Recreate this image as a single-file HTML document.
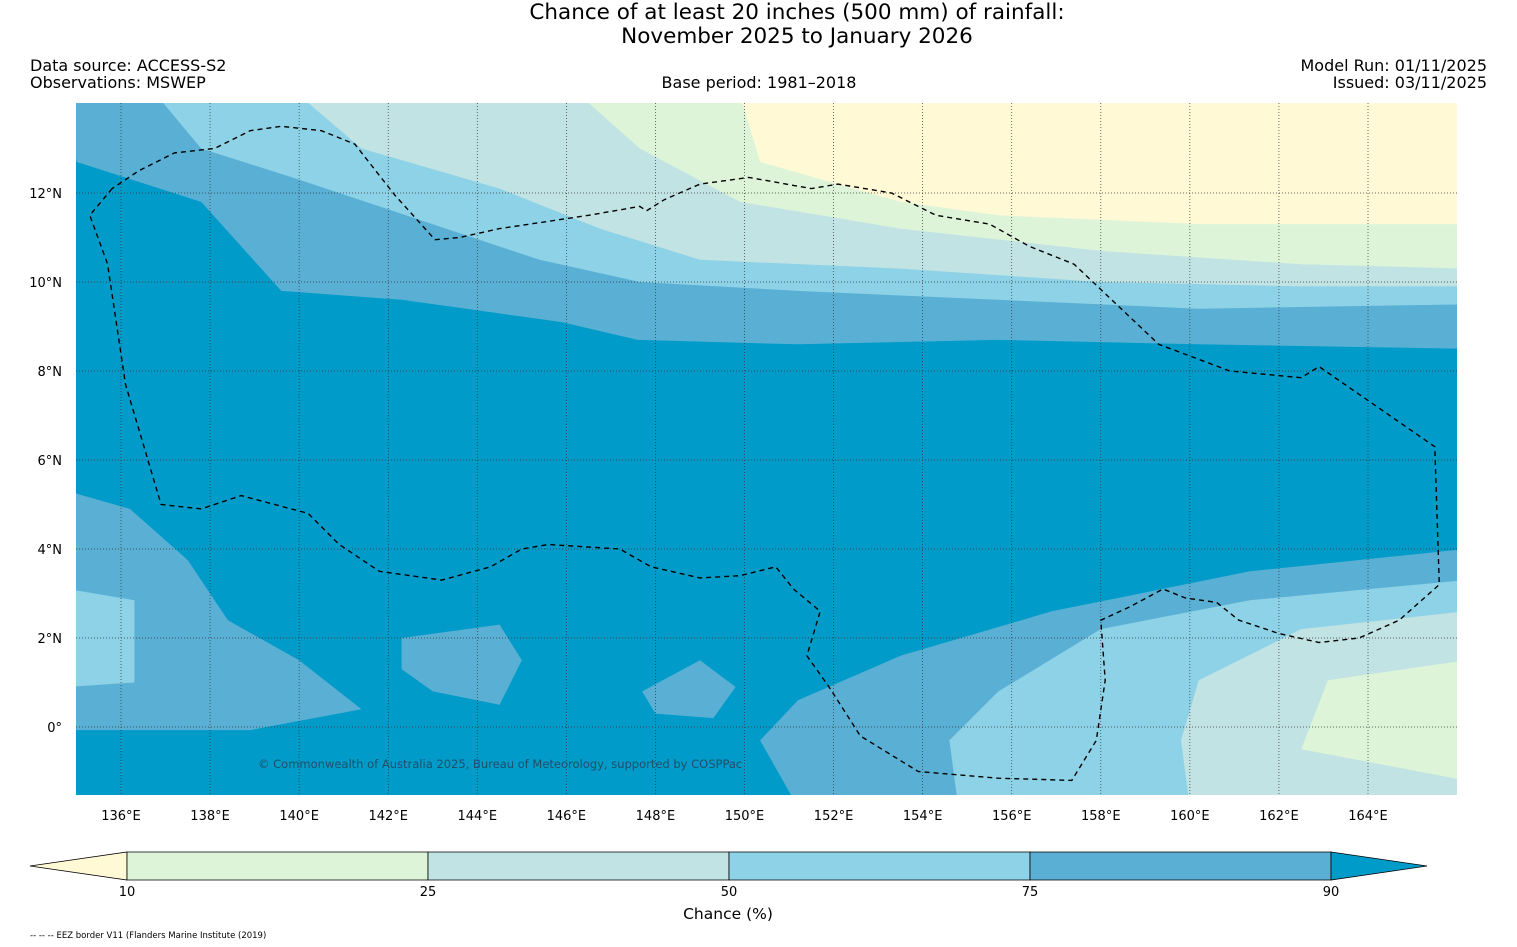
<!DOCTYPE html>
<html><head><meta charset="utf-8"><style>
body{margin:0;background:#fff;width:1517px;height:947px;overflow:hidden;font-family:"DejaVu Sans","Liberation Sans",sans-serif;}
svg{position:absolute;left:0;top:0}
</style></head><body>
<svg id="chart" width="1517" height="947" xmlns="http://www.w3.org/2000/svg">
<text x="797" y="19" font-size="21.5" text-anchor="middle">Chance of at least 20 inches (500  mm) of rainfall:</text>
<text x="797" y="43" font-size="21.5" text-anchor="middle">November 2025 to January 2026</text>
<text x="30" y="71" font-size="16">Data source: ACCESS-S2</text>
<text x="30" y="88" font-size="16">Observations: MSWEP</text>
<text x="759" y="88" font-size="16" text-anchor="middle">Base period: 1981–2018</text>
<text x="1487" y="71" font-size="16" text-anchor="end">Model Run: 01/11/2025</text>
<text x="1487" y="88" font-size="16" text-anchor="end">Issued: 03/11/2025</text>
<defs><clipPath id="mapclip"><rect x="76" y="103" width="1381" height="692"/></clipPath></defs>
<g id="map" clip-path="url(#mapclip)"></g>
<g id="grid"></g>
<g id="eez"></g>
<text x="258" y="768" font-size="11.5" fill="#1f4f6a">© Commonwealth of Australia 2025, Bureau of Meteorology, supported by COSPPac</text>
<g id="axes"></g>
<g id="cbar"></g>
<text x="728" y="919" font-size="15.5" text-anchor="middle">Chance (%)</text>
<text x="30" y="938" font-size="8.5">-- -- -- EEZ border V11 (Flanders Marine Institute (2019)</text>
</svg>
<script>
const lonTicks=[136,138,140,142,144,146,148,150,152,154,156,158,160,162,164];
const latTicks=[0,2,4,6,8,10,12];
const cbLevels=[10,25,50,75,90];
const cbColors=["#fff9d6","#ddf4d9","#c1e3e3","#8ed2e7","#5ab0d4","#009bc8"];
const north75=[[135,12.7],[137.8,11.8],[139.6,9.8],[142.3,9.6],[145.9,9.1],[147.6,8.7],[151.2,8.6],[155.7,8.7],[160.2,8.6],[166.2,8.5]];
const north50=[[136.8,14.2],[137.8,13.0],[140.0,12.3],[142.7,11.4],[145.4,10.5],[147.65,10.0],[151.2,9.8],[155.7,9.6],[160.2,9.4],[166.2,9.5]];
const north25=[[140.0,14.2],[141.4,13.0],[144.5,12.1],[146.75,11.2],[149.0,10.5],[153.5,10.3],[158.0,10.0],[162.5,9.9],[166.2,9.9]];
const north10=[[146.3,14.2],[147.65,13.0],[149.9,11.8],[153.5,11.2],[158.0,10.7],[162.5,10.4],[166.2,10.3]];
const northLow=[[149.9,14.2],[150.35,12.7],[153.5,11.8],[155.7,11.5],[160.2,11.3],[166.2,11.3]];
const se75=[[166.2,4.0],[161.35,3.5],[156.9,2.6],[153.5,1.6],[151.2,0.6],[150.35,-0.3],[151.2,-1.8]];
const se50=[[166.2,3.3],[161.35,2.85],[158.0,2.2],[155.7,0.8],[154.6,-0.3],[154.8,-1.8]];
const se25=[[166.2,2.6],[162.5,2.2],[160.2,1.05],[159.8,-0.3],[160.0,-1.8]];
const se10=[[166.2,1.5],[163.1,1.05],[162.5,-0.5],[166.2,-1.2]];
const west75=[[134.8,5.3],[136.2,4.9],[137.5,3.75],[138.4,2.4],[140.0,1.5],[141.4,0.4],[138.9,-0.07],[134.8,-0.07]];
const blobA=[[142.3,2.0],[144.5,2.3],[145,1.5],[144.5,0.5],[143.0,0.8],[142.3,1.3]];
const blobB=[[147.7,0.8],[149,1.5],[149.8,0.9],[149.3,0.2],[148.0,0.3]];
const west50=[[134.8,3.1],[136.3,2.85],[136.3,1.0],[134.8,0.9]];
const eezLine=[[135.8,12.1],[135.3,11.5],[135.7,10.4],[136.1,7.7],[136.9,5.0],[137.8,4.9],[138.7,5.2],[140.2,4.8],[140.9,4.1],[141.8,3.5],[143.2,3.3],[144.3,3.6],[145.0,4.0],[145.6,4.1],[147.2,4.0],[147.9,3.6],[149.0,3.35],[149.9,3.4],[150.7,3.6],[151.1,3.1],[151.7,2.6],[151.4,1.6],[151.9,0.9],[152.6,-0.2],[153.9,-1.0],[155.7,-1.15],[157.35,-1.2],[157.9,-0.3],[158.1,1.05],[158.0,2.4],[158.65,2.7],[159.4,3.1],[159.9,2.9],[160.6,2.8],[161.1,2.4],[162.0,2.1],[162.9,1.9],[163.8,2.0],[164.7,2.4],[165.6,3.2],[165.5,6.3],[162.9,8.1],[162.5,7.85],[160.9,8.0],[159.3,8.6],[157.4,10.4],[156.4,10.8],[155.5,11.3],[154.3,11.5],[153.3,12.0],[152.1,12.2],[151.5,12.1],[150.1,12.35],[149.0,12.2],[148.2,11.85],[147.8,11.6],[147.65,11.7],[146.5,11.5],[144.5,11.2],[143.6,11.0],[143.05,10.95],[142.15,11.95],[141.25,13.1],[140.5,13.4],[139.6,13.5],[138.9,13.4],[138.1,13.0],[137.2,12.9],[136.4,12.5],[135.8,12.1]];

const NS="http://www.w3.org/2000/svg";
const xS=lon=>121+(lon-136)*44.536;
const yS=lat=>727-lat*44.5;
const cbX=v=>127+(cbLevels.indexOf(v))*301;
function pts(arr){return arr.map(p=>xS(p[0]).toFixed(1)+","+yS(p[1]).toFixed(1)).join(" ");}
const mapG=document.getElementById('map');
function poly(arr,fill,name){const e=document.createElementNS(NS,'polygon');e.setAttribute('points',pts(arr));e.setAttribute('fill',fill);


mapG.appendChild(e);}
const bg=document.createElementNS(NS,'rect');bg.setAttribute('x',76);bg.setAttribute('y',103);bg.setAttribute('width',1381);bg.setAttribute('height',692);bg.setAttribute('fill',cbColors[5]);


mapG.appendChild(bg);
const topEdge=[[166.2,14.5],[134.8,14.5]];
poly(north75.concat(topEdge),cbColors[4],'band-75-90-north');
poly(north50.concat(topEdge),cbColors[3],'band-50-75-north');
poly(north25.concat(topEdge),cbColors[2],'band-25-50-north');
poly(north10.concat(topEdge),cbColors[1],'band-10-25-north');
poly(northLow.concat(topEdge),cbColors[0],'band-below-10-north');
const brCorner=[[166.2,-1.8]];
poly(se75.concat(brCorner),cbColors[4],'band-75-90-southeast');
poly(se50.concat(brCorner),cbColors[3],'band-50-75-southeast');
poly(se25.concat(brCorner),cbColors[2],'band-25-50-southeast');
poly(se10.concat(brCorner),cbColors[1],'band-10-25-southeast');
poly(west75,cbColors[4],'band-75-90-west');
poly(blobA,cbColors[4],'band-75-90-patch');
poly(blobB,cbColors[4],'band-75-90-patch');
poly(west50,cbColors[3],'band-50-75-west');

const gridG=document.getElementById('grid'),axesG=document.getElementById('axes');
function line(g,x1,y1,x2,y2,attrs,name){const l=document.createElementNS(NS,'line');l.setAttribute('x1',x1);l.setAttribute('y1',y1);l.setAttribute('x2',x2);l.setAttribute('y2',y2);for(const k in attrs)l.setAttribute(k,attrs[k]);


g.appendChild(l);}
function txt(g,x,y,s,anchor,name){const t=document.createElementNS(NS,'text');t.setAttribute('x',x);t.setAttribute('y',y);t.setAttribute('font-size','13');t.setAttribute('text-anchor',anchor);t.textContent=s;


g.appendChild(t);}
const gs={stroke:'#333','stroke-width':0.7,'stroke-dasharray':'1,2'};
lonTicks.forEach(v=>{const x=xS(v);line(gridG,x,103,x,795,gs,'lon-gridline');txt(axesG,x,820,v+'°E','middle','lon-tick-label');});
latTicks.forEach(v=>{const y=yS(v);line(gridG,76,y,1457,y,gs,'lat-gridline');txt(axesG,62,y+5,v===0?'0°':v+'°N','end','lat-tick-label');});

const eezG=document.getElementById('eez');
const pl=document.createElementNS(NS,'polyline');pl.setAttribute('points',pts(eezLine));pl.setAttribute('fill','none');pl.setAttribute('stroke','#000');pl.setAttribute('stroke-width','1.4');pl.setAttribute('stroke-dasharray','5,4');


eezG.appendChild(pl);

const cbG=document.getElementById('cbar');
function cpoly(p,fill,name){const e=document.createElementNS(NS,'polygon');e.setAttribute('points',p);e.setAttribute('fill',fill);e.setAttribute('stroke','#000');e.setAttribute('stroke-width','0.8');


cbG.appendChild(e);}
const y0=852,y1=880,ym=866;
cpoly(`30,${ym} ${cbX(10)},${y0} ${cbX(10)},${y1}`,cbColors[0],'colorbar-low-arrow');
for(let i=0;i<cbLevels.length-1;i++){const a=cbX(cbLevels[i]),b=cbX(cbLevels[i+1]);cpoly(`${a},${y0} ${b},${y0} ${b},${y1} ${a},${y1}`,cbColors[i+1],'colorbar-segment');}
cpoly(`${cbX(90)},${y0} 1427,${ym} ${cbX(90)},${y1}`,cbColors[5],'colorbar-high-arrow');
cbLevels.forEach(v=>txt(cbG,cbX(v),896,String(v),'middle','colorbar-tick-label'));
</script>
</body></html>
